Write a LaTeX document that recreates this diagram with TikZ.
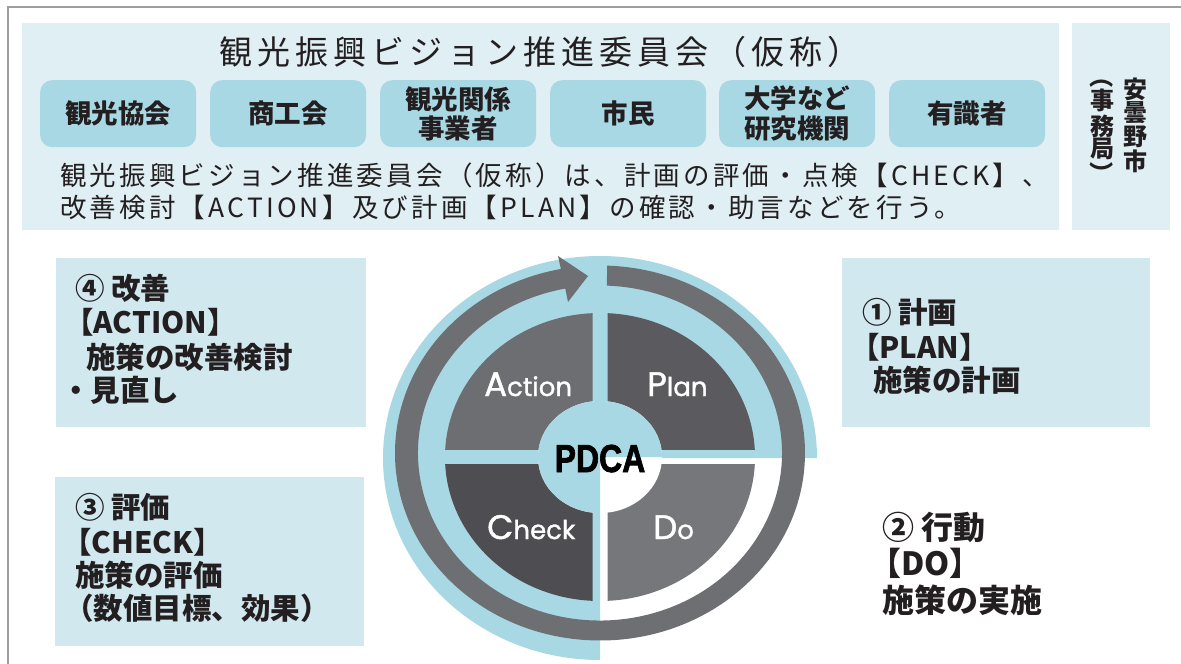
\documentclass[tikz,border=0pt]{standalone}
\usepackage{fontspec}
\usepackage{graphicx}
\newfontfamily\jp{Noto Sans CJK JP}
\newfontfamily\jpt{Noto Sans CJK JP}[LetterSpace=15]
\newfontfamily\jpl{Noto Sans CJK JP}[LetterSpace=12]
\newfontfamily\pop{Poppins}[FakeBold=1.2]
\newfontfamily\lib{Liberation Sans}[BoldFeatures={FakeBold=2}]
\definecolor{cPanel}{HTML}{E0EFF4}
\definecolor{cMbox}{HTML}{A8D8E3}
\definecolor{cLbox}{HTML}{D0E8EE}
\definecolor{cBlue}{HTML}{A8D8E3}
\definecolor{cRing}{HTML}{6E6F73}
\definecolor{cSA}{HTML}{6D6E72}
\definecolor{cSP}{HTML}{5B5B5F}
\definecolor{cSC}{HTML}{4E4E52}
\definecolor{cSD}{HTML}{76777B}
\definecolor{cTxt}{HTML}{231F20}
\definecolor{cFrame}{HTML}{9E9E9E}
\begin{document}
\begin{tikzpicture}[x=1pt,y=1pt,
  memberbox/.style={fill=cMbox, rounded corners=12pt, minimum width=156pt, minimum height=67pt, inner sep=0pt, anchor=north west, text=cTxt, font=\jp\bfseries\fontsize{26.5}{29.5}\selectfont, align=center},
  lowbox/.style={fill=cLbox, inner sep=0pt, anchor=north west},
  ltxt/.style={anchor=base west, inner sep=0pt, text=cTxt, font=\jp\bfseries\fontsize{29.5}{34}\selectfont},
  dtxt/.style={anchor=base west, inner sep=0pt, text=cTxt, font=\jp\bfseries\fontsize{32}{36}\selectfont},
  vtxt/.style={inner sep=0pt, text=cTxt, font=\jp\bfseries\fontsize{24}{24}\selectfont},
  qlab/.style={anchor=base west, inner sep=0pt, text=white, font=\pop},
  bodytxt/.style={anchor=base west, inner sep=0pt, text=cTxt, font=\jpl\fontsize{26.5}{33}\selectfont}
]
\useasboundingbox (0,0) rectangle (1181,-664);
\fill[white] (0,0) rectangle (1181,-664);
% frame
\draw[cFrame, line width=2.3pt] (8,-664) -- (8,-7) -- (1181,-7);
% top panel
\node[fill=cPanel, inner sep=0pt, anchor=north west, minimum width=1037pt, minimum height=207pt] (panel) at (22,-23) {};
\node[fill=cPanel, inner sep=0pt, anchor=north west, minimum width=98pt, minimum height=207pt] (city) at (1072,-23) {};
\node[inner sep=0pt, text=cTxt, font=\jpt\fontsize{33}{33}\selectfont] (title) at (540,-51.5) {観光振興ビジョン推進委員会（仮称）};
\node[memberbox] (m1) at (40,-80) {観光協会};
\node[memberbox] (m2) at (210,-80) {商工会};
\node[memberbox] (m3) at (380,-80) {観光関係\\事業者};
\node[memberbox] (m4) at (550,-80) {市民};
\node[memberbox] (m5) at (719,-80) {大学など\\研究機関};
\node[memberbox] (m6) at (889,-80) {有識者};
\node[bodytxt] (b1) at (60,-185) {観光振興ビジョン推進委員会（仮称）は、計画の評価・点検【CHECK】、};
\node[bodytxt] (b2) at (60,-217.5) {改善検討【ACTION】及び計画【PLAN】の確認・助言などを行う。};
% vertical text
\node[vtxt] (v1) at (1135,-89) {安};
\node[vtxt] (v2) at (1135,-113) {曇};
\node[vtxt] (v3) at (1135,-137) {野};
\node[vtxt] (v4) at (1135,-161) {市};
\node[vtxt, rotate=-90] (w0) at (1102,-76.5) {（};
\node[vtxt] (w1) at (1102,-100) {事};
\node[vtxt] (w2) at (1102,-126) {務};
\node[vtxt] (w3) at (1102,-149) {局};
\node[vtxt, rotate=-90] (w4) at (1102,-173.5) {）};
% lower boxes
\node[lowbox, minimum width=310pt, minimum height=169pt] (boxA) at (56,-258) {};
\node[lowbox, minimum width=309pt, minimum height=169pt] (boxC) at (55,-477) {};
\node[lowbox, minimum width=308pt, minimum height=169pt] (boxP) at (842,-258) {};
% box A text
\node[ltxt] (a1) at (75,-299) {④ 改善};
\node[ltxt] (a2) at (64,-333) {【ACTION】};
\node[ltxt] (a3) at (86,-368) {施策の改善検討};
\node[ltxt] (a4) at (61,-401) {・見直し};
% box C text
\node[ltxt] (c1) at (75,-518) {③ 評価};
\node[ltxt] (c2) at (62,-553) {【CHECK】};
\node[ltxt] (c3) at (75,-586) {施策の評価};
\node[ltxt] (c4) at (64,-619) {（数値目標、効果）};
% box P text
\node[ltxt] (p1) at (862,-323) {① 計画};
\node[ltxt] (p2) at (850,-358) {【PLAN】};
\node[ltxt] (p3) at (873,-391) {施策の計画};
% DO text
\node[dtxt] (d1) at (882,-539) {② 行動};
\node[dtxt] (d2) at (869,-575) {【DO】};
\node[dtxt] (d3) at (882,-612) {施策の実施};
% PDCA circle
\fill[cBlue] (600,-458) -- (817,-458) arc[start angle=0, end angle=270, x radius=217pt, y radius=202pt] -- cycle;
\begin{scope}
  \clip (607.5,-449.5) rectangle (800,-250);
  \fill[cSP] (600,-457) ellipse [x radius=155pt, y radius=144pt];
\end{scope}
\begin{scope}
  \clip (592.5,-449.5) rectangle (400,-250);
  \fill[cSA] (600,-457) ellipse [x radius=155pt, y radius=144pt];
\end{scope}
\begin{scope}
  \clip (592.5,-464.5) rectangle (400,-650);
  \fill[cSC] (600,-457) ellipse [x radius=155pt, y radius=144pt];
\end{scope}
\begin{scope}
  \clip (607.5,-464.5) rectangle (800,-650);
  \fill[cSD] (600,-457) ellipse [x radius=155pt, y radius=144pt];
\end{scope}
\fill[white] (600,-457) ellipse [x radius=62pt, y radius=56pt];
\fill[cBlue] (600,-457) -- (662,-457) arc[start angle=0, end angle=270, x radius=62pt, y radius=56pt] -- cycle;
\begin{scope}[shift={(600,-453)}]
  \fill[cRing] (88.04:205pt and 187.5pt) arc[start angle=88.04, end angle=-259, x radius=205pt, y radius=187.5pt]
    -- (-42,197) -- (-12,177) -- (-32,151) -- (-259:182pt and 167.5pt)
    arc[start angle=-259, end angle=87.8, x radius=182pt, y radius=167.5pt] -- cycle;
\end{scope}
\node[anchor=base, inner sep=0pt, text=black, font=\lib\bfseries\fontsize{39}{39}\selectfont] (pdca) at (600,-472) {\scalebox{0.82}[1]{PDCA}};
\node[qlab] (qa) at (484,-396) {{\fontsize{34}{34}\selectfont A}{\fontsize{26}{26}\selectfont ction}};
\node[qlab] (qp) at (647,-396) {{\fontsize{34}{34}\selectfont P}{\fontsize{26}{26}\selectfont lan}};
\node[qlab] (qc) at (487,-539) {{\fontsize{34}{34}\selectfont C}{\fontsize{26}{26}\selectfont heck}};
\node[qlab] (qd) at (653,-539) {{\fontsize{34}{34}\selectfont D}{\fontsize{26}{26}\selectfont o}};
\end{tikzpicture}
\end{document}
